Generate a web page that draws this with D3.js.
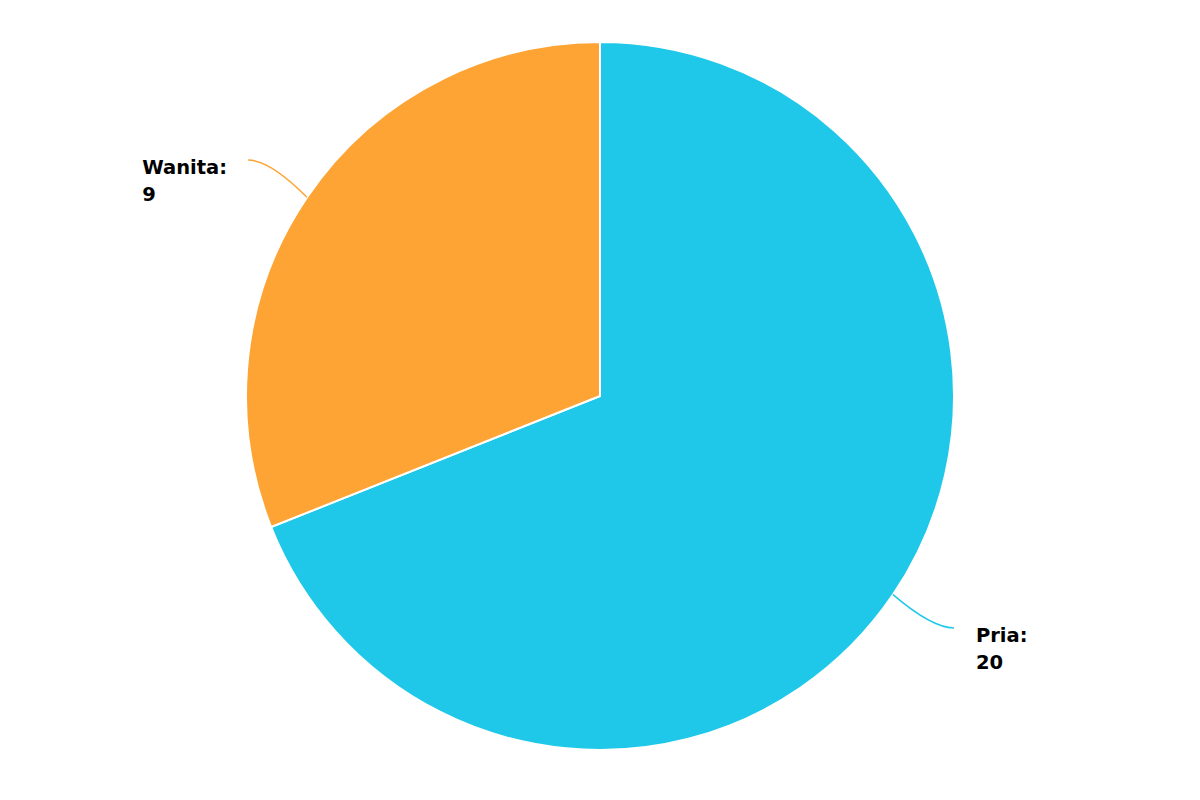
<!DOCTYPE html>
<html lang="id">
<head>
    <meta charset="utf-8">
    <title>Pria / Wanita</title>
    <script src="https://cdn.jsdelivr.net/npm/d3@7"></script>
    <style>
        body { margin: 0; background: #fff; }
        .label { font-family: "DejaVu Sans", sans-serif; font-weight: bold; font-size: 19.5px; fill: #000; }
    </style>
</head>
<body>
<div id="chart"></div>
<script>
    // Data
    var categories = ['Pria', 'Wanita'];
    var values = [20, 9];
    var colors = ['#1fc8e9', '#fea434'];

    var width = 1200,
        height = 800,
        cx = 600,
        cy = 396,
        radius = 354;

    var svg = d3.select('#chart').append('svg')
        .attr('width', width)
        .attr('height', height);

    var g = svg.append('g').attr('transform', 'translate(' + cx + ',' + cy + ')');

    var data = categories.map(function(c, i) { return { name: c, value: values[i], color: colors[i] }; });

    var pie = d3.pie().sort(null).value(function(d) { return d.value; });
    var arc = d3.arc().innerRadius(0).outerRadius(radius);

    var arcs = pie(data);

    g.selectAll('path.slice')
        .data(arcs)
        .enter()
        .append('path')
        .attr('class', 'slice')
        .attr('d', arc)
        .attr('fill', function(d) { return d.data.color; })
        .attr('stroke', '#fff')
        .attr('stroke-width', 2);

    // Linhas de ligação + rótulos
    arcs.forEach(function(d) {
        var mid = (d.startAngle + d.endAngle) / 2,
            sx = Math.sin(mid), sy = -Math.cos(mid),
            right = sx > 0;

        var p0 = [sx * radius, sy * radius],
            p1 = [sx * (radius + 70) + (right ? 3 : -1), sy * (radius + 70) - (right ? 6 : -2)],
            ctrl = [p1[0] + (right ? -22 : 22), p1[1]];

        g.append('path')
            .attr('d', 'M' + p0 + 'Q' + ctrl + ' ' + p1)
            .attr('fill', 'none')
            .attr('stroke', d.data.color)
            .attr('stroke-width', 1.5);

        var text = g.append('text')
            .attr('class', 'label');

        text.append('tspan').attr('x', 0).text(d.data.name + ':');
        text.append('tspan').attr('x', 0).attr('dy', 27).text(d.data.value);

        var w = text.node().getBBox().width,
            tx = right ? p1[0] + 22 : p1[0] - 21 - w;

        text.attr('y', p1[1] + 14);
        text.selectAll('tspan').attr('x', tx);
    });
</script>
</body>
</html>
